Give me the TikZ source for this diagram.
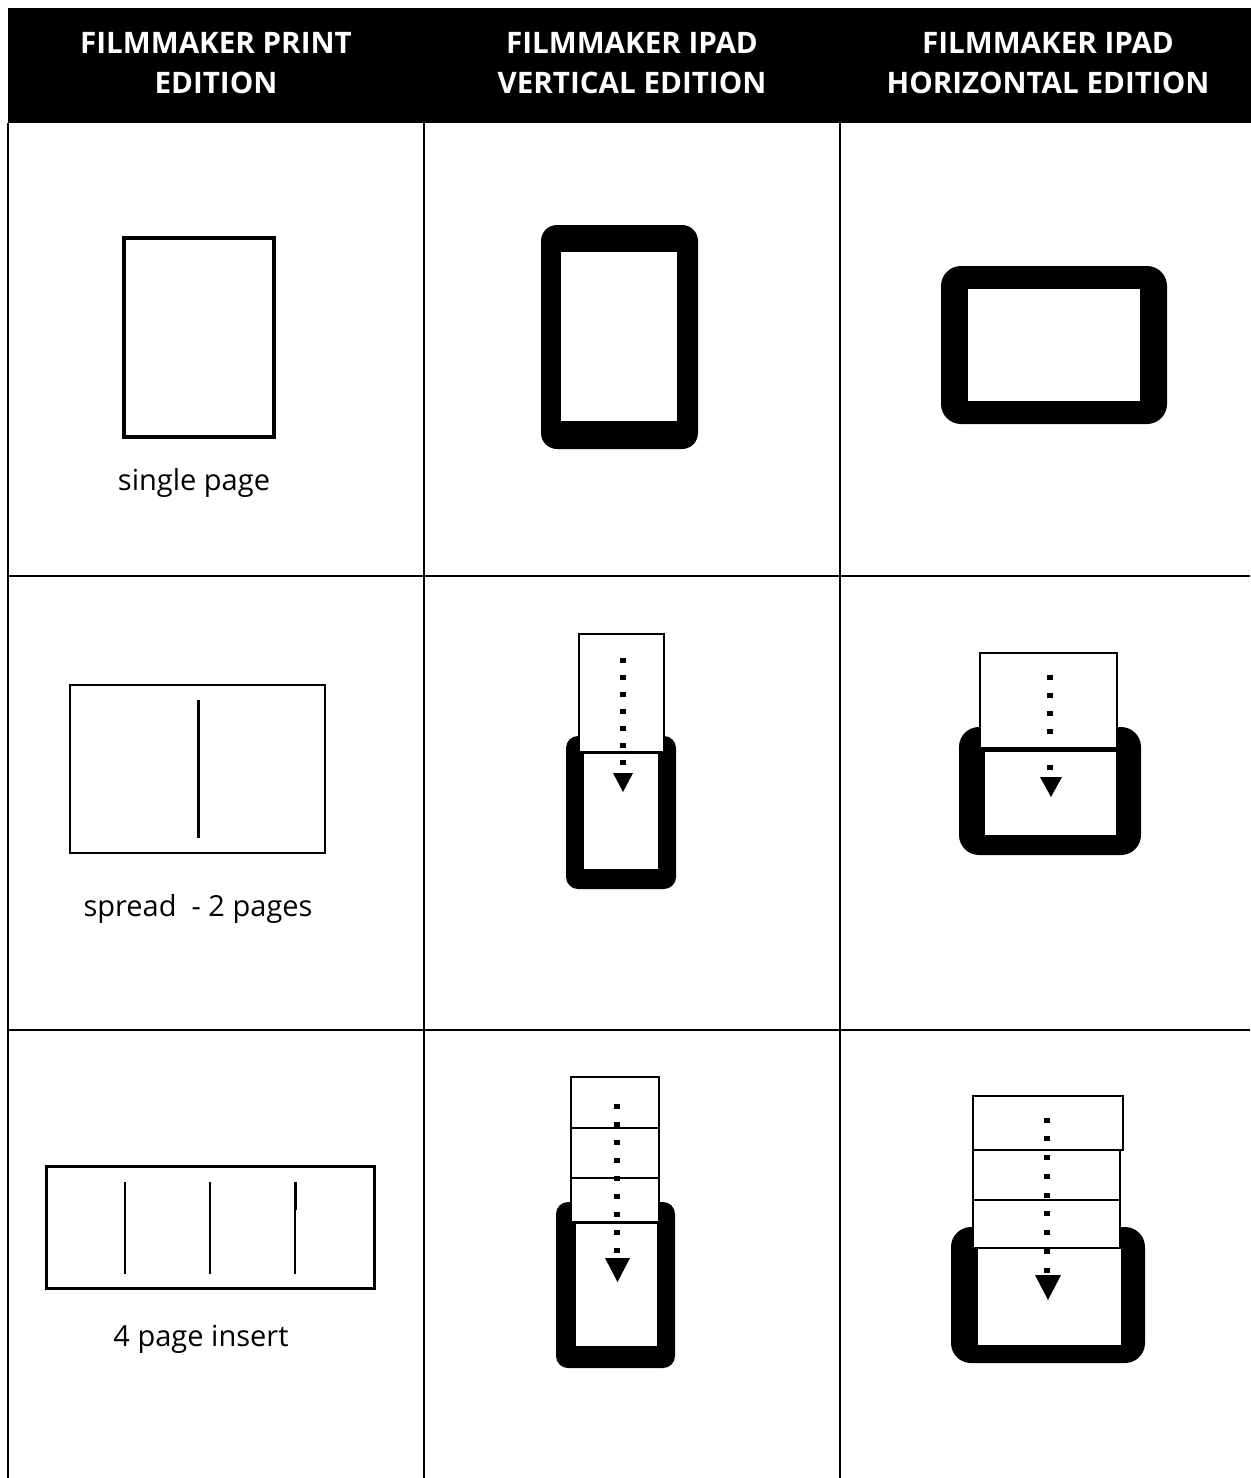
\documentclass[tikz,border=0pt]{standalone}
\usepackage{fontspec}
\setmainfont{Open Sans}
\begin{document}
\begin{tikzpicture}[x=0.5pt,y=-0.5pt,
  grid/.style={line width=1.3pt},
  pagebox/.style={draw=black, fill=white, line width=1.4pt},
  ipad/.style={fill=black},
  screen/.style={fill=white, draw=black, line width=0.6pt},
  dotline/.style={line width=2.6pt, dash pattern=on 2.5pt off 6pt},
  tri/.style={fill=black},
  head/.style={text=white, font=\bfseries\fontsize{14.8}{20}\selectfont, align=center},
  lbl/.style={font=\fontsize{14.5}{17}\selectfont}]
\useasboundingbox (0,0) rectangle (1250,1478);
% table
\fill[black] (8,8) rectangle (1256,123);
\draw[grid] (8,123) -- (8,1478);
\draw[grid] (424,123) -- (424,1478);
\draw[grid] (840,123) -- (840,1478);
\draw[grid] (8,576) -- (1250,576);
\draw[grid] (8,1030) -- (1250,1030);
\node[head] (h1) at (216,63) {FILMMAKER PRINT\\EDITION};
\node[head] (h2) at (632,63) {FILMMAKER IPAD\\VERTICAL EDITION};
\node[head] (h3) at (1048,63) {FILMMAKER IPAD\\HORIZONTAL EDITION};
% row 1
\draw[line width=2pt] (124,238) rectangle (274,437);
\node[lbl] (l1) at (194,483) {single page};
\fill[ipad, rounded corners=8pt] (541,225) rectangle (698,449);
\fill[white] (561,252) rectangle (677,421);
\fill[ipad, rounded corners=10pt] (941,266) rectangle (1167,424);
\fill[white] (968,289) rectangle (1140,401);
% row 2
\draw[line width=1.25pt] (70,685) rectangle (325,853);
\draw[line width=1.5pt] (198,700) -- (198,838);
\node[lbl] (l2) at (198,909) {spread\ \ - 2 pages};
% vertical spread
\fill[ipad, rounded corners=6pt] (566,736) rectangle (676,889);
\draw[screen] (583,753) rectangle (659,870);
\draw[pagebox] (579,634) rectangle (664,752);
\coordinate (a1s) at (623,657.5);
\coordinate (a1e) at (623,766);
\draw[dotline, dash pattern=on 2.5pt off 6pt] (a1s) -- (a1e);
\fill[tri] (613,773) -- (633,773) -- (623,792) -- cycle;
% horizontal spread
\fill[ipad, rounded corners=10pt] (959,727) rectangle (1141,855);
\draw[screen] (984,751) rectangle (1117,836);
\draw[pagebox] (980,653) rectangle (1117,748);
\coordinate (a2s) at (1050,674.5);
\coordinate (a2e) at (1050,770);
\draw[dotline, dash pattern=on 2.5pt off 6.5pt] (a2s) -- (a2e);
\fill[tri] (1040,777) -- (1062,777) -- (1051,797) -- cycle;
% row 3
\draw[line width=1.5pt] (46,1166) rectangle (374,1288);
\draw[line width=0.75pt] (125,1182) -- (125,1274);
\draw[line width=1.1pt] (210,1182) -- (210,1274);
\draw[line width=0.75pt] (295,1182) -- (295,1274);
\draw[line width=1.3pt] (295.6,1182) -- (295.6,1210);
\node[lbl] (l3) at (201,1339) {4 page insert};
% vertical insert
\fill[ipad, rounded corners=6pt] (556,1202) rectangle (675,1368);
\draw[screen] (575,1223) rectangle (658,1347);
\draw[pagebox] (571,1077) rectangle (659,1128);
\draw[pagebox] (571,1128) rectangle (659,1178);
\draw[pagebox] (571,1178) rectangle (659,1222);
\coordinate (a3s) at (617,1103.5);
\coordinate (a3e) at (617,1253);
\draw[dotline, dash pattern=on 2.5pt off 6.5pt] (a3s) -- (a3e);
\fill[tri] (605,1258) -- (630,1258) -- (617.5,1282) -- cycle;
% horizontal insert
\fill[ipad, rounded corners=10pt] (951,1227) rectangle (1145,1363);
\draw[screen] (977,1248) rectangle (1122,1346);
\draw[pagebox] (973,1096) rectangle (1123,1150);
\draw[pagebox] (973,1150) rectangle (1120,1200);
\draw[pagebox] (973,1200) rectangle (1120,1248);
\coordinate (a4s) at (1047,1117.5);
\coordinate (a4e) at (1047,1273);
\draw[dotline, dash pattern=on 2.5pt off 6.875pt] (a4s) -- (a4e);
\fill[tri] (1035,1275) -- (1061,1275) -- (1048,1300) -- cycle;
\end{tikzpicture}
\end{document}
